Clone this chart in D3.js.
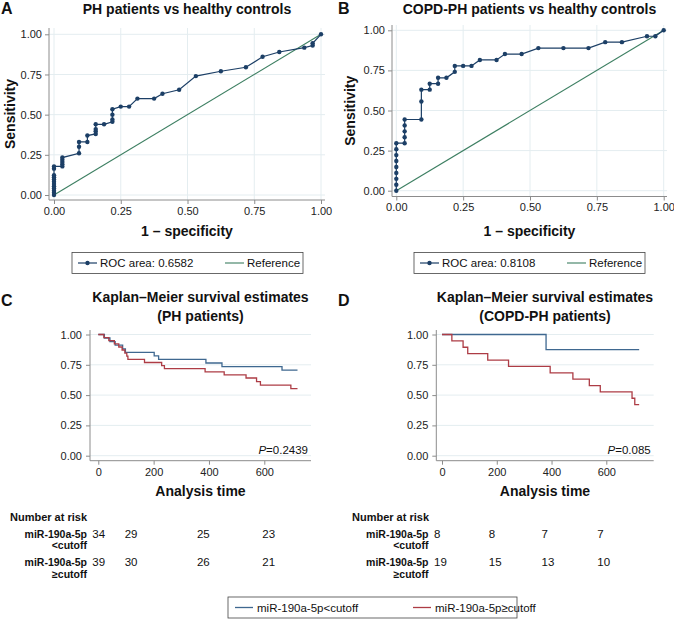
<!DOCTYPE html>
<html>
<head>
<meta charset="utf-8">
<title>miR-190a-5p ROC and survival</title>
<script src="https://cdn.jsdelivr.net/npm/d3@7"></script>
<style>
  body { margin: 0; background: #fff; }
  svg text { font-family: "Liberation Sans", Arial, sans-serif; fill: #111; }
</style>
</head>
<body>
<svg id="chart" width="674" height="620"></svg>
<script>
// ---- data ----
// ROC, PH patients vs healthy controls
var rocA_fpr = [0,0,0,0,0,0,0,0,0,0,0,0,
  0.03125,0.03125,0.03125,0.03125,0.03125,
  0.09375,0.09375,0.09375, 0.125,0.125,
  0.15625,0.15625,0.15625,0.15625, 0.1875,
  0.21875,0.21875,0.21875,0.21875, 0.25, 0.28125, 0.3125, 0.375, 0.40625, 0.46875,
  0.53125, 0.625, 0.71875, 0.78125, 0.84375, 0.9375, 0.96875, 0.96875, 1];
var rocA_tpr = [0,0.014,0.027,0.041,0.055,0.068,0.082,0.096,0.11,0.123,0.164,0.178,
  0.178,0.192,0.205,0.219,0.233,
  0.26,0.30,0.33, 0.33,0.37,
  0.38,0.397,0.41,0.44, 0.44,
  0.456,0.47,0.50,0.534, 0.55, 0.55, 0.60, 0.60, 0.63, 0.655,
  0.74, 0.77, 0.795, 0.86, 0.89, 0.917, 0.93, 0.944, 1];
// ROC, COPD-PH patients vs healthy controls
var rocB_fpr = [0,0,0,0,0,0,0,0,0,
  0.03125,0.03125,0.03125,0.03125,0.03125,
  0.09375,0.09375,0.09375, 0.125,0.125, 0.15625,0.15625, 0.1875,
  0.21875,0.21875, 0.25, 0.28125, 0.3125, 0.375, 0.40625, 0.46875,
  0.53125, 0.625, 0.71875, 0.78125, 0.84375, 0.9375, 0.96875, 1];
var rocB_tpr = [0,0.037,0.074,0.111,0.148,0.185,0.222,0.259,0.296,
  0.296,0.333,0.370,0.407,0.444,
  0.444,0.556,0.630, 0.630,0.667, 0.667,0.704, 0.704,
  0.741,0.778, 0.778, 0.778, 0.815, 0.815, 0.852, 0.852,
  0.889, 0.889, 0.889, 0.926, 0.926, 0.963, 0.963, 1];
var rocAreas = ["0.6582", "0.8108"];
var rocTicks = [0, 0.25, 0.5, 0.75, 1];

// Kaplan-Meier, PH patients
var kmC_low_t = [0,22,42,61,88,98,202,218,389,447,664,720];
var kmC_low_s = [1,0.971,0.941,0.912,0.882,0.853,0.824,0.794,0.765,0.735,0.706,0.706];
var kmC_high_t = [0,20,38,58,74,86,96,103,107,167,229,239,386,455,534,572,586,696,720];
var kmC_high_s = [1,0.974,0.949,0.923,0.897,0.872,0.846,0.821,0.795,0.769,0.744,0.718,0.692,0.667,0.641,0.612,0.583,0.553,0.553];
// Kaplan-Meier, COPD-PH patients
var kmD_low_t = [0,380,720];
var kmD_low_s = [1,0.875,0.875];
var kmD_high_t = [0,36,77,94,167,243,395,478,538,578,694,704,720];
var kmD_high_s = [1,0.947,0.895,0.842,0.789,0.737,0.684,0.632,0.579,0.526,0.474,0.421,0.421];
var kmTicks = [0, 200, 400, 600];
var kmYTicks = [0, 0.25, 0.5, 0.75, 1];
var pValues = ["0.2439", "0.085"];

// number at risk
var riskTimes = [0, 200, 400, 600];
var riskC_low = [34, 29, 25, 23];
var riskC_high = [39, 30, 26, 21];
var riskD_low = [8, 8, 7, 7];
var riskD_high = [19, 15, 13, 10];
var groupNames = ["miR-190a-5p<cutoff", "miR-190a-5p\u2265cutoff"];

// ---- styles ----
var svg = d3.select('#chart');
var gridCol = '#e4edf0', axisCol = '#8c8c8c';
var navy = '#1c3f66', green = '#3d7f62';
var kmBlue = '#3f6890', kmRed = '#ad3c45';

function styleAxis(sel) {
  sel.select('.domain').remove();
  sel.selectAll('.tick line').attr('stroke', axisCol);
  sel.selectAll('.tick text').attr('font-size', 11).style('fill', '#222');
}

function bold(x, y, txt, size, anchor, rot) {
  var t = svg.append('text').attr('x', x).attr('y', y)
    .attr('font-size', size).attr('font-weight', 'bold')
    .attr('text-anchor', anchor || 'middle').text(txt);
  if (rot) t.attr('transform', 'rotate(-90,' + x + ',' + y + ')');
  return t;
}

// ---- ROC panels ----
function rocPanel(p) {
  var x = d3.scaleLinear().domain([0, 1]).range(p.xr);
  var y = d3.scaleLinear().domain([0, 1]).range(p.yr);
  var g = svg.append('g');
  var b = p.box; // left, right, top, bottom

  g.selectAll('.gy').data(rocTicks).enter().append('line')
    .attr('x1', b[0]).attr('x2', b[1]).attr('y1', d => y(d)).attr('y2', d => y(d))
    .attr('stroke', gridCol);
  g.selectAll('.gx').data(rocTicks).enter().append('line')
    .attr('y1', b[2]).attr('y2', b[3]).attr('x1', d => x(d)).attr('x2', d => x(d))
    .attr('stroke', gridCol);

  g.append('g').attr('transform', 'translate(' + b[0] + ',0)')
    .call(d3.axisLeft(y).tickValues(rocTicks).tickFormat(d3.format('.2f')).tickSize(4).tickPadding(3))
    .call(styleAxis);
  g.append('g').attr('transform', 'translate(0,' + b[3] + ')')
    .call(d3.axisBottom(x).tickValues(rocTicks).tickFormat(d3.format('.2f')).tickSize(4).tickPadding(3))
    .call(styleAxis);
  g.append('line').attr('x1', b[0]).attr('x2', b[0]).attr('y1', b[2]).attr('y2', b[3]).attr('stroke', axisCol);
  g.append('line').attr('x1', b[0]).attr('x2', b[1]).attr('y1', b[3]).attr('y2', b[3]).attr('stroke', axisCol);

  // reference diagonal
  g.append('line').attr('x1', x(0)).attr('y1', y(0)).attr('x2', x(1)).attr('y2', y(1))
    .attr('stroke', green).attr('stroke-width', 1.1);

  var pts = p.fpr.map((f, i) => [f, p.tpr[i]]);
  g.append('path').datum(pts)
    .attr('d', d3.line().x(d => x(d[0])).y(d => y(d[1])))
    .attr('fill', 'none').attr('stroke', navy).attr('stroke-width', 1.2);
  g.selectAll('.pt').data(pts).enter().append('circle')
    .attr('cx', d => x(d[0])).attr('cy', d => y(d[1])).attr('r', 2.2).attr('fill', navy);

  bold((b[0] + b[1]) / 2, 14, p.title, 14);
  bold(p.letterX, 14, p.letter, 16, 'start');
  bold(p.ylabX, (b[2] + b[3]) / 2, 'Sensitivity', 14, 'middle', true);
  bold((b[0] + b[1]) / 2, 236, '1 \u2013 specificity', 14);

  // legend
  var L = p.leg, ly = 263;
  svg.append('rect').attr('x', L).attr('y', 252.5).attr('width', 231).attr('height', 21)
    .attr('fill', '#fff').attr('stroke', '#444').attr('stroke-width', 0.8);
  svg.append('line').attr('x1', L + 6).attr('x2', L + 25).attr('y1', ly).attr('y2', ly).attr('stroke', navy).attr('stroke-width', 1.2);
  svg.append('circle').attr('cx', L + 15.5).attr('cy', ly).attr('r', 2.2).attr('fill', navy);
  svg.append('text').attr('x', L + 28).attr('y', ly + 4).attr('font-size', 11.5).text('ROC area: ' + p.area);
  svg.append('line').attr('x1', L + 153).attr('x2', L + 172).attr('y1', ly).attr('y2', ly).attr('stroke', green).attr('stroke-width', 1.1);
  svg.append('text').attr('x', L + 175).attr('y', ly + 4).attr('font-size', 11.5).text('Reference');
}

rocPanel({ fpr: rocA_fpr, tpr: rocA_tpr, area: rocAreas[0], title: 'PH patients vs healthy controls',
  letter: 'A', letterX: 1, xr: [54, 321], yr: [195, 34.3], box: [49, 325, 28, 200], ylabX: 15, leg: 72 });
rocPanel({ fpr: rocB_fpr, tpr: rocB_tpr, area: rocAreas[1], title: 'COPD-PH patients vs healthy controls',
  letter: 'B', letterX: 338, xr: [396.3, 663.7], yr: [190.7, 30.3], box: [392, 667, 25, 196.5], ylabX: 355, leg: 414 });

// ---- Kaplan-Meier panels ----
function kmPanel(p) {
  var x = d3.scaleLinear().domain([0, 600]).range(p.xr);
  var y = d3.scaleLinear().domain([0, 1]).range([455.7, 334.5]);
  var b = p.box;
  var g = svg.append('g');

  g.selectAll('.gy').data(kmYTicks).enter().append('line')
    .attr('x1', b[0]).attr('x2', b[1]).attr('y1', d => y(d)).attr('y2', d => y(d))
    .attr('stroke', gridCol);
  g.append('g').attr('transform', 'translate(' + b[0] + ',0)')
    .call(d3.axisLeft(y).tickValues(kmYTicks).tickFormat(d3.format('.2f')).tickSize(4).tickPadding(4))
    .call(styleAxis);
  g.append('g').attr('transform', 'translate(0,' + b[3] + ')')
    .call(d3.axisBottom(x).tickValues(kmTicks).tickSize(4).tickPadding(4))
    .call(styleAxis);
  g.append('line').attr('x1', b[0]).attr('x2', b[0]).attr('y1', b[2]).attr('y2', b[3]).attr('stroke', axisCol);
  g.append('line').attr('x1', b[0]).attr('x2', b[1]).attr('y1', b[3]).attr('y2', b[3]).attr('stroke', axisCol);

  var step = d3.line().curve(d3.curveStepAfter).x(d => x(d[0])).y(d => y(d[1]));
  [[p.lowT, p.lowS, kmBlue], [p.highT, p.highS, kmRed]].forEach(function (s) {
    var pts = s[0].map((t, i) => [t, s[1][i]]);
    g.append('path').datum(pts).attr('d', step)
      .attr('fill', 'none').attr('stroke', s[2]).attr('stroke-width', 1.3);
  });

  var pt = svg.append('text').attr('x', b[1] - 3).attr('y', 454).attr('text-anchor', 'end').attr('font-size', 11.5);
  pt.append('tspan').attr('font-style', 'italic').text('P');
  pt.append('tspan').text('=' + p.pval);

  var cx = (b[0] + b[1]) / 2;
  bold(cx, 302, 'Kaplan\u2013Meier survival estimates', 14);
  bold(cx, 321, p.sub, 14);
  bold(p.letterX, 306, p.letter, 16, 'start');
  bold(cx, 496, 'Analysis time', 14);

  // number at risk table
  bold(p.nrX, 520.5, 'Number at risk', 11, 'start');
  [[p.low, 537.5, '<cutoff'], [p.high, 566, '\u2265cutoff']].forEach(function (r) {
    bold(p.labR, r[1], 'miR-190a-5p', 10.5, 'end');
    bold(p.labR, r[1] + 11.5, r[2], 10.5, 'end');
    svg.selectAll(null).data(riskTimes).enter().append('text')
      .attr('x', (d, i) => x(d) + p.nudge[i]).attr('y', r[1])
      .attr('font-size', 11.5).text((d, i) => r[0][i]);
  });
}

kmPanel({ xr: [98.3, 264.3], box: [90, 311, 330, 460.7], lowT: kmC_low_t, lowS: kmC_low_s,
  highT: kmC_high_t, highS: kmC_high_s, pval: pValues[0], sub: '(PH patients)', letter: 'C', letterX: 1,
  nrX: 10, labR: 87, low: riskC_low, high: riskC_high, nudge: [-6, -29, -12, -2] });
kmPanel({ xr: [442, 606.3], box: [436.3, 653.7, 330, 460.7], lowT: kmD_low_t, lowS: kmD_low_s,
  highT: kmD_high_t, highS: kmD_high_s, pval: pValues[1], sub: '(COPD-PH patients)', letter: 'D', letterX: 338,
  nrX: 352, labR: 428.5, low: riskD_low, high: riskD_high, nudge: [-8, -8, -10, -9] });

// ---- shared KM legend ----
svg.append('rect').attr('x', 228).attr('y', 597).attr('width', 289).attr('height', 21)
  .attr('fill', '#fff').attr('stroke', '#444').attr('stroke-width', 0.8);
[[235, kmBlue, groupNames[0]], [413, kmRed, groupNames[1]]].forEach(function (k) {
  svg.append('line').attr('x1', k[0]).attr('x2', k[0] + 18).attr('y1', 607.5).attr('y2', 607.5)
    .attr('stroke', k[1]).attr('stroke-width', 1.3);
  svg.append('text').attr('x', k[0] + 22).attr('y', 611.5).attr('font-size', 11.5).text(k[2]);
});
</script>
</body>
</html>
